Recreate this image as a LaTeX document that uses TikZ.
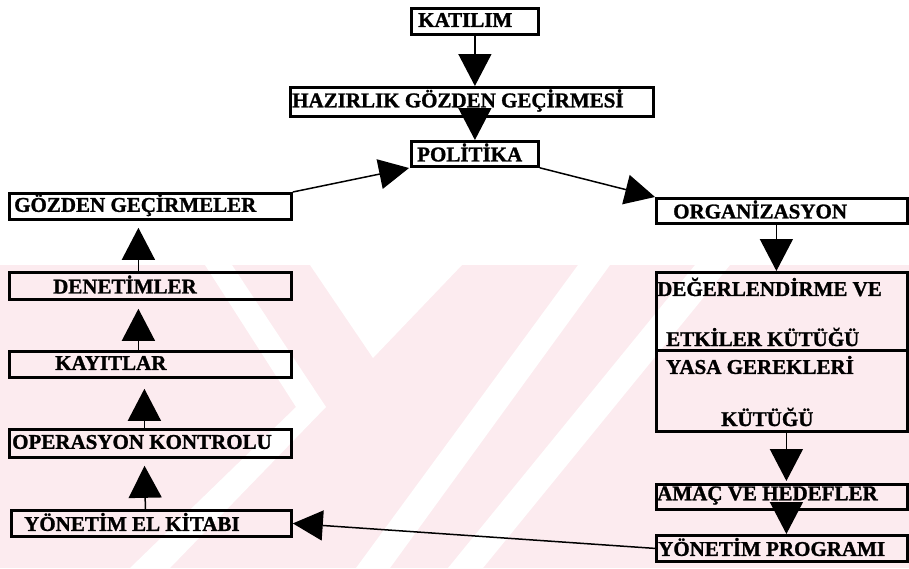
\documentclass[tikz,border=0pt]{standalone}
\usepackage{fontspec}
\setmainfont{Liberation Serif}
\newfontfamily\heavyserif{Liberation Serif}[BoldFeatures={FakeBold=1.3}]
\usetikzlibrary{arrows.meta}
\definecolor{wmpink}{RGB}{252,235,239}
\begin{document}
\begin{tikzpicture}[x=1pt,y=-1pt,
  box/.style={draw, line width=2.8pt, rectangle, inner sep=0pt, anchor=north west},
  lbl/.style={anchor=west, inner sep=0pt, font=\heavyserif\fontsize{21}{23}\selectfont\bfseries},
  conn/.style={line width=1.5pt, -{Triangle[length=32pt,width=33pt]}},
  diag/.style={line width=1.5pt, -{Triangle[length=30pt,width=30pt]}}]
\useasboundingbox (0,0) rectangle (909,568);

% faint background watermark
\fill[wmpink] (0,265) rectangle (909,568);
\fill[white] (310,265) -- (462,265) -- (373,358) -- cycle;
\fill[white] (578,265) -- (610,265) -- (390,568) -- (356,568) -- cycle;
\fill[white] (695,265) -- (730,265) -- (483,568) -- (448,568) -- cycle;
\fill[white] (205,265) -- (232,265) -- (326,407) -- (170,568) -- (130,568) -- (296,407) -- cycle;

% top chain
\node[box, minimum width=127pt, minimum height=26pt] (kat) at (410,7) {};
\node[lbl] (katT) at (418,20) {KATILIM};
\node[box, minimum width=363pt, minimum height=29pt] (hz) at (289,86) {};
\node[lbl] (hzT) at (292,100.5) {HAZIRLIK GÖZDEN GEÇİRMESİ};
\node[box, minimum width=127pt, minimum height=25pt] (pol) at (410,140) {};
\node[lbl] (polT) at (417,152.5) {POLİTİKA};

% left column
\node[box, minimum width=282pt, minimum height=26pt] (gg) at (8,192) {};
\node[lbl] (ggT) at (14,205) {GÖZDEN GEÇİRMELER};
\node[box, minimum width=282pt, minimum height=27pt] (den) at (8,271) {};
\node[lbl] (denT) at (53,284.5) {DENETİMLER};
\node[box, minimum width=282pt, minimum height=26pt] (kay) at (8,350) {};
\node[lbl] (kayT) at (55,363) {KAYITLAR};
\node[box, minimum width=282pt, minimum height=28pt] (op) at (8,428) {};
\node[lbl] (opT) at (12,442) {OPERASYON KONTROLU};
\node[box, minimum width=280pt, minimum height=26pt] (yel) at (10,509) {};
\node[lbl] (yelT) at (24,522) {YÖNETİM EL KİTABI};

% right column
\node[box, minimum width=251pt, minimum height=25pt] (org) at (655,197) {};
\node[lbl] (orgT) at (673,209.5) {ORGANİZASYON};
\node[box, minimum width=251pt, minimum height=78pt] (deg) at (655,271) {};
\node[lbl] (degT1) at (657,287) {DEĞERLENDİRME VE};
\node[lbl] (degT2) at (666,337) {ETKİLER KÜTÜĞÜ};
\node[box, minimum width=251pt, minimum height=81pt] (ykg) at (655,349) {};
\node[lbl] (ykgT1) at (666,365) {YASA GEREKLERİ};
\node[lbl] (ykgT2) at (721,417) {KÜTÜĞÜ};
\node[box, minimum width=251pt, minimum height=25pt] (amac) at (655,483) {};
\node[lbl] (amacT) at (657,495.5) {AMAÇ VE HEDEFLER};
\node[box, minimum width=251pt, minimum height=26pt] (yp) at (655,534) {};
\node[lbl] (ypT) at (658,547) {YÖNETİM PROGRAMI};

% connectors
\draw[conn] (kat.south) -- (kat.south |- hz.north);
\draw[conn] (pol.north |- hz.south) -- (pol.north);
\draw[diag, shorten >=1pt] (gg.north east) -- (pol.south west);
\draw[diag] (pol.south east) -- (org.north west);
\draw[conn] ([xshift=-5.5]org.south) -- ([xshift=-5.5]org.south |- deg.north);
\draw[conn, shorten >=2pt] ([xshift=4.5]ykg.south) -- ([xshift=4.5]ykg.south |- amac.north);
\draw[conn] ([xshift=4.5]amac.south) -- ([xshift=4.5]amac.south |- yp.north);
\draw[diag] (yp.west) -- (yel.east);
\draw[conn, shorten >=7pt] ([xshift=-6]yel.north) -- ([xshift=-6]op.south);
\draw[conn, shorten >=10pt] ([xshift=-6]op.north) -- ([xshift=-6]kay.south);
\draw[conn, shorten >=8pt] ([xshift=-12]kay.north) -- ([xshift=-12]den.south);
\draw[conn, shorten >=7pt] ([xshift=-12]den.north) -- ([xshift=-12]gg.south);
\end{tikzpicture}
\end{document}
